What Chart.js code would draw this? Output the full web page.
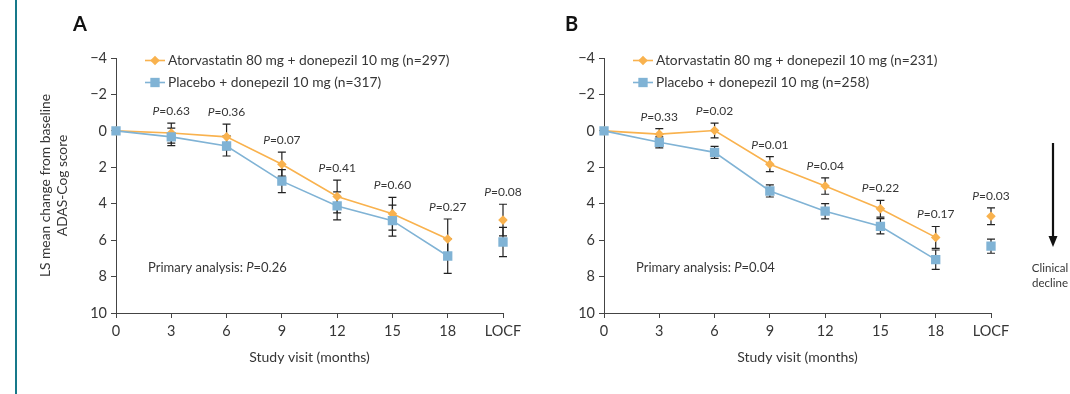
<!DOCTYPE html>
<html><head><meta charset="utf-8">
<script src="https://cdn.jsdelivr.net/npm/chart.js@4.4.1/dist/chart.umd.min.js"></script>
<style>
html,body{margin:0;padding:0;background:#fff;}
#wrap{position:relative;width:1070px;height:394px;overflow:hidden;background:#fff;}
#bar{position:absolute;left:15px;top:0;width:2px;height:394px;background:#16798a;}
.pane{position:absolute;top:0;}
</style></head><body>
<div id="wrap"><div id="bar"></div>
<div class="pane" style="left:0;width:540px;height:394px"><canvas id="cA" width="540" height="394"></canvas></div>
<div class="pane" style="left:540px;width:530px;height:394px"><canvas id="cB" width="530" height="394"></canvas></div>
</div>
<script>
// ---- data ----
const visits = ['0','3','6','9','12','15','18','LOCF'];
const yTicks = [-4,-2,0,2,4,6,8,10];

const atorA    = [0, 0.12, 0.33, 1.83, 3.60, 4.55, 5.94, 4.90];
const atorA_se = [0, 0.55, 0.70, 0.66, 0.90, 0.90, 1.10, 0.87];
const placA    = [0, 0.33, 0.83, 2.76, 4.12, 4.93, 6.87, 6.10];
const placA_se = [0, 0.48, 0.55, 0.63, 0.77, 0.85, 0.95, 0.80];
const pA = ['', '0.63', '0.36', '0.07', '0.41', '0.60', '0.27', '0.08'];
const legendA = ['Atorvastatin 80 mg + donepezil 10 mg (n=297)', 'Placebo + donepezil 10 mg (n=317)'];
const primaryA = '0.26';

const atorB    = [0, 0.18, -0.02, 1.83, 3.03, 4.28, 5.85, 4.69];
const atorB_se = [0, 0.30, 0.40, 0.41, 0.45, 0.46, 0.60, 0.46];
const placB    = [0, 0.63, 1.18, 3.30, 4.41, 5.24, 7.07, 6.33];
const placB_se = [0, 0.30, 0.33, 0.33, 0.42, 0.42, 0.53, 0.39];
const pB = ['', '0.33', '0.02', '0.01', '0.04', '0.22', '0.17', '0.03'];
const legendB = ['Atorvastatin 80 mg + donepezil 10 mg (n=231)', 'Placebo + donepezil 10 mg (n=258)'];
const primaryB = '0.04';

// ---- style ----
const ORANGE = '#F9B24E';
const BLUE = '#80B3D5';
const TXT = '#363636';
const AX = '#444444';
const FONT = 'Lato, "Open Sans", sans-serif';

function pText(ctx, x, y, val, size, align) {
  ctx.save();
  ctx.fillStyle = TXT;
  ctx.textBaseline = 'middle';
  const f1 = 'italic ' + size + 'px ' + FONT;
  const f2 = size + 'px ' + FONT;
  ctx.font = f1; const w1 = ctx.measureText('P').width;
  ctx.font = f2; const w2 = ctx.measureText('=' + val).width;
  let sx = align === 'center' ? x - (w1 + w2) / 2 : x;
  ctx.font = f1; ctx.textAlign = 'left'; ctx.fillText('P', sx, y);
  ctx.font = f2; ctx.fillText('=' + val, sx + w1, y);
  ctx.restore();
  return w1 + w2;
}

const annot = {
  id: 'annot',
  beforeDatasetsDraw(chart) {
    const o = chart.options.plugins.annot;
    const ctx = chart.ctx, xs = chart.scales.x, ys = chart.scales.y;
    ctx.save();
    ctx.strokeStyle = '#222'; ctx.lineWidth = 1.2;
    o.series.forEach(s => {
      s.v.forEach((v, i) => {
        if (!s.se[i]) return;
        const x = xs.getPixelForValue(i);
        const y1 = ys.getPixelForValue(v - s.se[i]);
        const y2 = ys.getPixelForValue(v + s.se[i]);
        ctx.beginPath();
        ctx.moveTo(x, y1); ctx.lineTo(x, y2);
        ctx.moveTo(x - 4, y1); ctx.lineTo(x + 4, y1);
        ctx.moveTo(x - 4, y2); ctx.lineTo(x + 4, y2);
        ctx.stroke();
      });
    });
    ctx.restore();
  },
  afterDraw(chart) {
    const o = chart.options.plugins.annot;
    const ctx = chart.ctx, xs = chart.scales.x, ys = chart.scales.y, ca = chart.chartArea;
    // P labels
    o.p.forEach((val, i) => {
      if (!val) return;
      let top = Infinity;
      o.series.forEach(s => { top = Math.min(top, s.v[i] - s.se[i]); });
      pText(ctx, xs.getPixelForValue(i), ys.getPixelForValue(top) - 12, val, 12, 'center');
    });
    // primary analysis
    ctx.save();
    ctx.font = '13px ' + FONT; ctx.fillStyle = TXT; ctx.textBaseline = 'middle'; ctx.textAlign = 'left';
    const px = ca.left + 32, py = ys.getPixelForValue(7.5);
    const lbl = 'Primary analysis: ';
    ctx.fillText(lbl, px, py);
    const w = ctx.measureText(lbl).width;
    ctx.restore();
    pText(ctx, px + w, py, o.primary, 13, 'left');
    // legend
    ctx.save();
    const lx = ca.left + 29;
    [[ORANGE, 'rectRot', 4.8], [BLUE, 'rect', 6.6]].forEach((m, k) => {
      const y = ca.top + 2.5 + k * 22;
      ctx.strokeStyle = m[0]; ctx.lineWidth = 1.6;
      ctx.beginPath(); ctx.moveTo(lx, y); ctx.lineTo(lx + 20, y); ctx.stroke();
      ctx.fillStyle = m[0];
      Chart.helpers.drawPoint(ctx, {pointStyle: m[1], radius: m[2], borderWidth: 0}, lx + 10, y);
      ctx.font = '13.8px ' + FONT; ctx.fillStyle = TXT; ctx.textBaseline = 'middle'; ctx.textAlign = 'left';
      ctx.fillText(o.legend[k], lx + 23, y);
    });
    // x title
    ctx.font = '14px ' + FONT; ctx.fillStyle = TXT; ctx.textAlign = 'center'; ctx.textBaseline = 'middle';
    ctx.fillText('Study visit (months)', (ca.left + ca.right) / 2, ca.bottom + 44);
    // panel letter
    ctx.font = 'bold 20px ' + FONT; ctx.textAlign = 'left'; ctx.fillStyle = '#111';
    ctx.fillText(o.letter, o.letterX, 25);
    if (o.yTitle) {
      ctx.save();
      ctx.translate(46, (ca.top + ca.bottom) / 2);
      ctx.rotate(-Math.PI / 2);
      ctx.font = '13.8px ' + FONT; ctx.fillStyle = TXT; ctx.textAlign = 'center'; ctx.textBaseline = 'middle';
      ctx.fillText('LS mean change from baseline', 0, 0);
      ctx.fillText('ADAS-Cog score', 0, 17);
      ctx.restore();
    }
    if (o.decline) {
      const ax = 513;
      ctx.strokeStyle = '#111'; ctx.fillStyle = '#111'; ctx.lineWidth = 2.2;
      ctx.beginPath(); ctx.moveTo(ax, 143); ctx.lineTo(ax, 238); ctx.stroke();
      ctx.beginPath(); ctx.moveTo(ax - 4.5, 236); ctx.lineTo(ax + 4.5, 236); ctx.lineTo(ax, 247); ctx.closePath(); ctx.fill();
      ctx.font = '11.5px ' + FONT; ctx.fillStyle = TXT; ctx.textAlign = 'center';
      ctx.fillText('Clinical', ax - 3, 268);
      ctx.fillText('decline', ax - 3, 283);
    }
    ctx.restore();
  }
};

function makeChart(id, ator, atorSe, plac, placSe, p, legend, primary, letter, letterX, yW, padR, yTitle, decline) {
  const seg = color => ({ borderColor: c => c.p1DataIndex === 7 ? 'transparent' : color });
  return new Chart(document.getElementById(id), {
    type: 'line',
    data: {
      labels: visits,
      datasets: [
        { data: plac, borderColor: BLUE, backgroundColor: BLUE, borderWidth: 1.6,
          pointStyle: 'rect', pointRadius: 6.6, pointHoverRadius: 6.6, pointBorderWidth: 0,
          segment: seg(BLUE), tension: 0 },
        { data: ator, borderColor: ORANGE, backgroundColor: ORANGE, borderWidth: 1.6,
          pointStyle: 'rectRot', pointRadius: 4.8, pointHoverRadius: 4.8, pointBorderWidth: 0,
          segment: seg(ORANGE), tension: 0 }
      ]
    },
    options: {
      responsive: false, animation: false, events: [],
      layout: { padding: { top: 58, right: padR, bottom: 0, left: 0 } },
      plugins: {
        legend: { display: false }, tooltip: { enabled: false },
        annot: { series: [{ v: ator, se: atorSe }, { v: plac, se: placSe }], p, legend, primary, letter, letterX, yTitle, decline }
      },
      scales: {
        x: {
          type: 'category', offset: false,
          grid: { drawOnChartArea: false, tickLength: 5, color: AX, offset: false },
          border: { color: AX, width: 1 },
          ticks: { color: TXT, font: { family: FONT, size: 14.5 }, padding: 5, maxRotation: 0, autoSkip: false },
          afterFit: s => { s.height = 81; }
        },
        y: {
          reverse: true, min: -4, max: 10,
          afterBuildTicks: s => { s.ticks = yTicks.map(v => ({ value: v })); },
          grid: { drawOnChartArea: false, tickLength: 5, color: AX },
          border: { color: AX, width: 1 },
          ticks: { color: TXT, font: { family: FONT, size: 14.5 }, padding: 4,
                   callback: v => String(v).replace('-', '\u2212') },
          afterFit: s => { s.width = yW; }
        }
      }
    },
    plugins: [annot]
  });
}

makeChart('cA', atorA, atorA_se, placA, placA_se, pA, legendA, primaryA, 'A', 73, 116, 37, true, false);
makeChart('cB', atorB, atorB_se, placB, placB_se, pB, legendB, primaryB, 'B', 25, 64, 79, false, true);
</script>
</body></html>
